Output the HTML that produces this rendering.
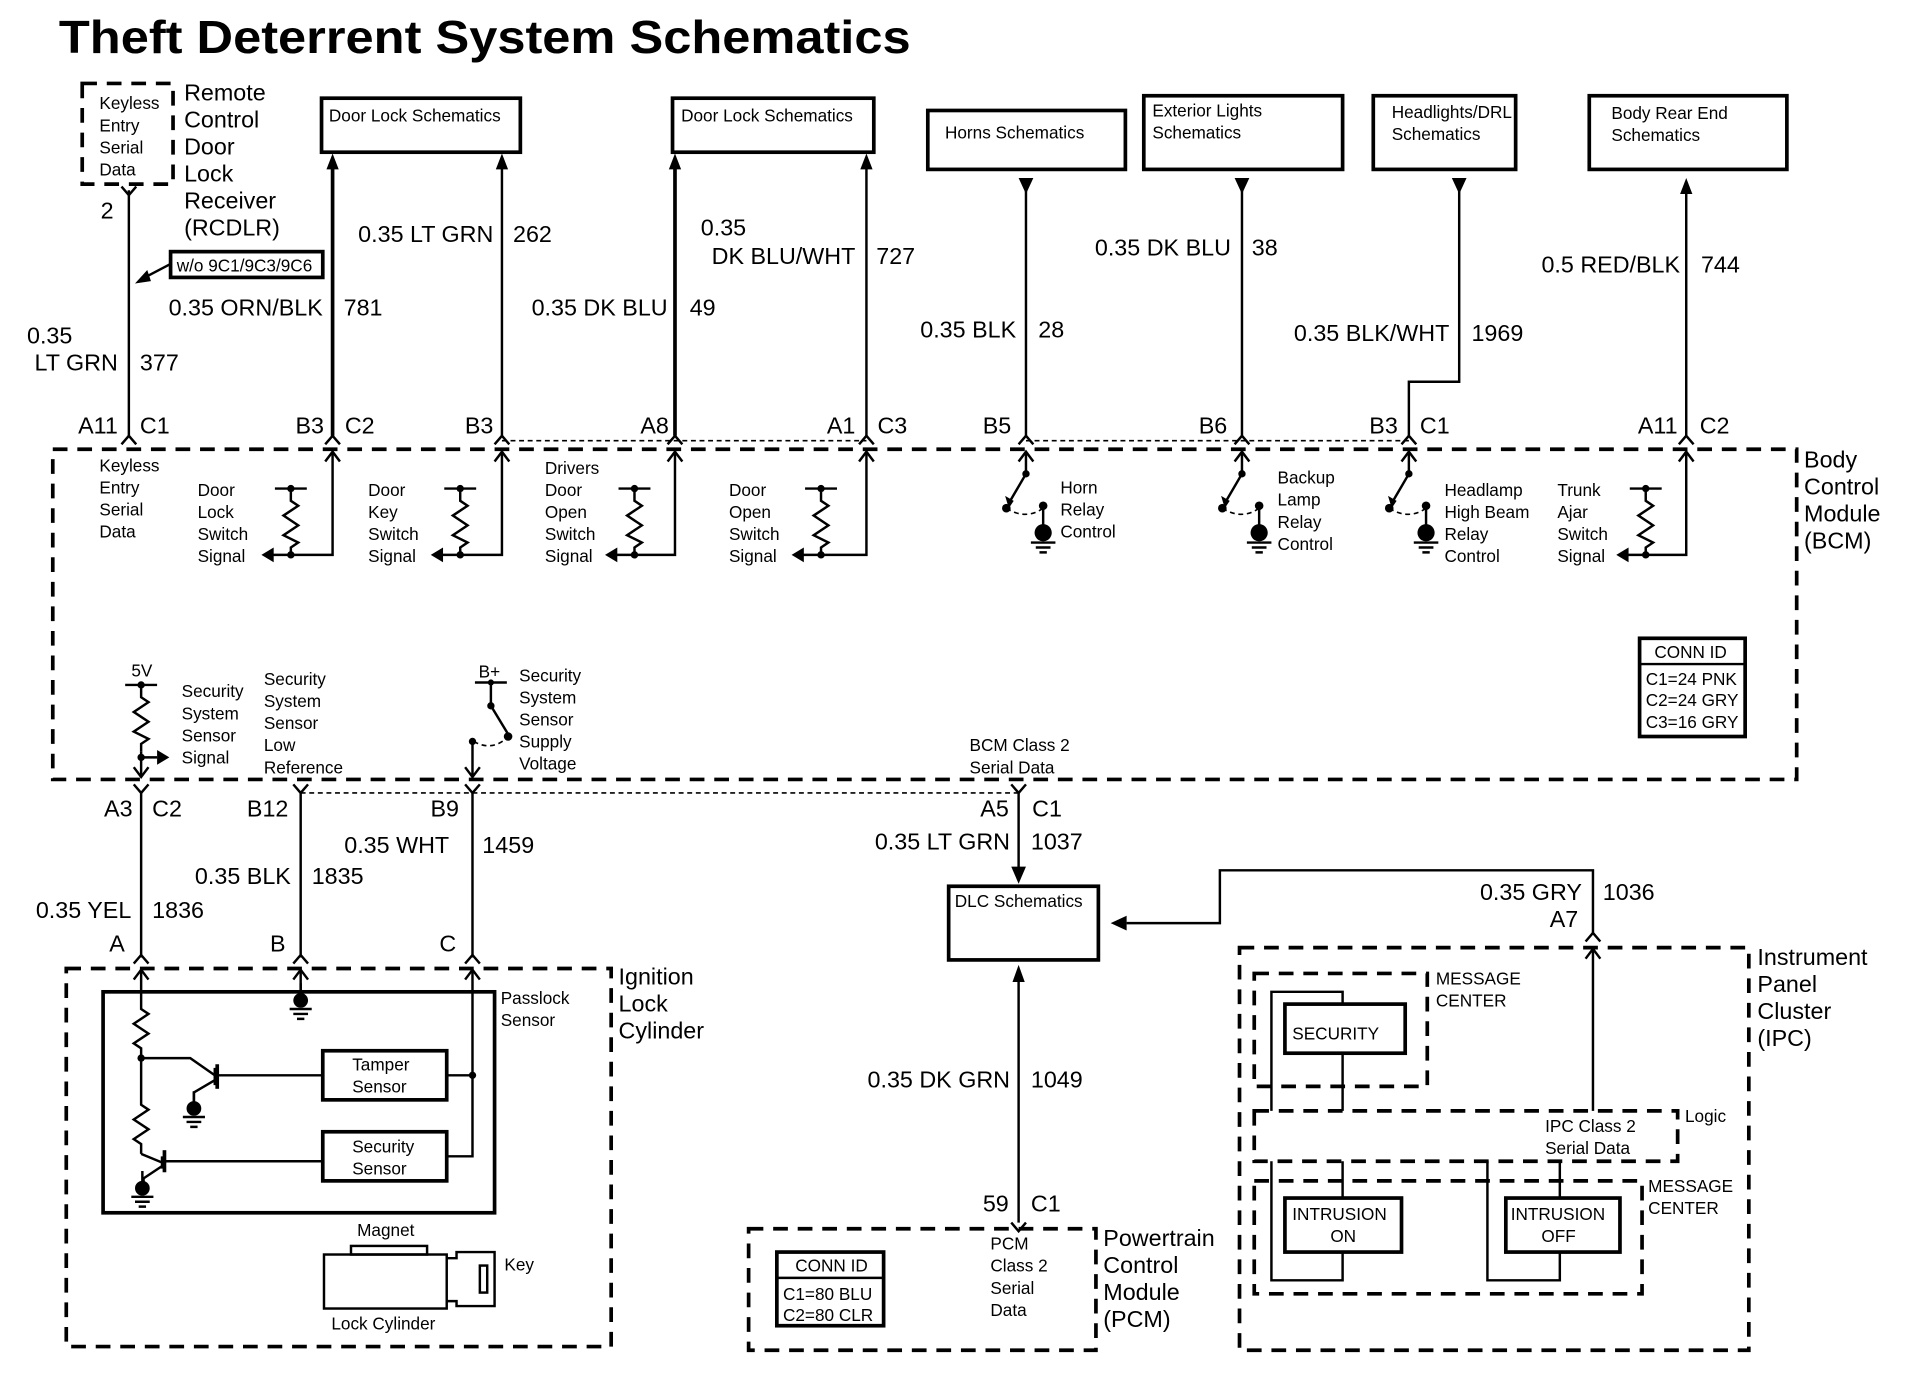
<!DOCTYPE html>
<html><head><meta charset="utf-8"><style>
html,body{margin:0;padding:0;background:#fff}
svg{display:block}
text{font-family:"Liberation Sans",Arial,sans-serif;fill:#000}
.t{font-size:19px}
.s{font-size:14px}
.m{font-size:19px}
.e{text-anchor:end}
.w{stroke:#000;stroke-width:2;fill:none}
.w3{stroke:#000;stroke-width:3;fill:none}
.d{stroke:#000;stroke-width:3;fill:none;stroke-dasharray:12 8}
.d1{stroke:#000;stroke-width:1.3;fill:none;stroke-dasharray:4 3}
</style></head><body>
<svg width="1928" height="1392" viewBox="0 0 1571 1134" preserveAspectRatio="none" xmlns="http://www.w3.org/2000/svg">
<defs>
<g id="res"><circle cx="0" cy="0" r="3"/><path class="w" d="M-13 0H13M0 0V10L6 14L-6 22L6 30L-6 38L6 44L0 48V54"/></g>
<g id="gnd"><circle cx="0" cy="0" r="6"/><path class="w" d="M0 -14V0M-9 7H9M-6 11H6M-3 15H3"/></g>
<g id="relay"><circle cx="0" cy="18" r="3"/><path class="w" d="M0 0V18L-14 42"/><path d="M-14 46L-17 36L-10 40Z"/><circle cx="-16" cy="46" r="3.5"/><path class="d1" d="M-16 46Q0 56 14 46"/><circle cx="14" cy="44" r="3.5"/><path class="w" d="M14 44V62"/><circle cx="14" cy="66" r="7"/><path class="w" d="M4 74H24M8 78H20M11 82H17"/></g>
<g id="uparr"><path class="w" d="M-6 8L0 0L6 8"/></g>
<g id="conn"><path class="w" d="M-6 7L0 0L6 7"/></g>
<g id="yfork"><path class="w" d="M-6 -7L0 0L6 -7"/></g>
</defs>

<text x="48" y="43" font-size="38" font-weight="bold" textLength="694" lengthAdjust="spacingAndGlyphs">Theft Deterrent System Schematics</text>

<rect class="d" x="67" y="68" width="74" height="82"/>
<text class="s" x="81" y="89">Keyless</text><text class="s" x="81" y="107">Entry</text><text class="s" x="81" y="125">Serial</text><text class="s" x="81" y="143">Data</text>
<text class="t" x="150" y="82">Remote</text><text class="t" x="150" y="104">Control</text><text class="t" x="150" y="126">Door</text><text class="t" x="150" y="148">Lock</text><text class="t" x="150" y="170">Receiver</text><text class="t" x="150" y="192">(RCDLR)</text>
<text class="t" x="82" y="178">2</text>
<rect class="w3" x="139" y="205" width="124" height="21"/>
<text class="s" x="144" y="221" font-size="13">w/o 9C1/9C3/9C6</text>
<path class="w" d="M139 215L118 226"/><path d="M110 231L120 220L123 229Z"/>

<rect class="w3" x="262" y="80" width="162" height="44"/><text class="s" x="268" y="99">Door Lock Schematics</text>
<rect class="w3" x="548" y="80" width="164" height="44"/><text class="s" x="555" y="99">Door Lock Schematics</text>
<rect class="w3" x="756" y="90" width="161" height="48"/><text class="s" x="770" y="113">Horns Schematics</text>
<rect class="w3" x="932" y="78" width="162" height="60"/><text class="s" x="939" y="95">Exterior Lights</text><text class="s" x="939" y="113">Schematics</text>
<rect class="w3" x="1119" y="78" width="116" height="60"/><text class="s" x="1134" y="96">Headlights/DRL</text><text class="s" x="1134" y="114">Schematics</text>
<rect class="w3" x="1295" y="78" width="161" height="60"/><text class="s" x="1313" y="97">Body Rear End</text><text class="s" x="1313" y="115">Schematics</text>

<path class="w" d="M105 155V355"/><use href="#yfork" x="105" y="159"/>
<path class="w3" d="M271 136V355"/><path d="M266 138L271 125L276 138Z"/>
<path class="w" d="M409 136V355"/><path d="M404 138L409 125L414 138Z"/>
<path class="w3" d="M550 136V355"/><path d="M545 138L550 125L555 138Z"/>
<path class="w" d="M706 136V355"/><path d="M701 138L706 125L711 138Z"/>
<path class="w" d="M836 150V355"/><path d="M830 145L842 145L836 158Z"/>
<path class="w" d="M1012 150V355"/><path d="M1006 145L1018 145L1012 158Z"/>
<path class="w" d="M1189 150V311H1148V355"/><path d="M1183 145L1195 145L1189 158Z"/>
<path class="w" d="M1374 158V355"/><path d="M1369 158L1374 145L1379 158Z"/>

<text class="t" x="22" y="280">0.35</text><text class="t e" x="96" y="302">LT GRN</text><text class="t" x="114" y="302">377</text>
<text class="t e" x="263" y="257">0.35 ORN/BLK</text><text class="t" x="280" y="257">781</text>
<text class="t e" x="402" y="197">0.35 LT GRN</text><text class="t" x="418" y="197">262</text>
<text class="t e" x="544" y="257">0.35 DK BLU</text><text class="t" x="562" y="257">49</text>
<text class="t" x="571" y="192">0.35</text><text class="t e" x="697" y="215">DK BLU/WHT</text><text class="t" x="714" y="215">727</text>
<text class="t e" x="828" y="275">0.35 BLK</text><text class="t" x="846" y="275">28</text>
<text class="t e" x="1003" y="208">0.35 DK BLU</text><text class="t" x="1020" y="208">38</text>
<text class="t e" x="1181" y="278">0.35 BLK/WHT</text><text class="t" x="1199" y="278">1969</text>
<text class="t e" x="1369" y="222">0.5 RED/BLK</text><text class="t" x="1386" y="222">744</text>

<text class="t e" x="96" y="353">A11</text><text class="t" x="114" y="353">C1</text>
<text class="t e" x="264" y="353">B3</text><text class="t" x="281" y="353">C2</text>
<text class="t e" x="402" y="353">B3</text>
<text class="t e" x="545" y="353">A8</text>
<text class="t e" x="697" y="353">A1</text><text class="t" x="715" y="353">C3</text>
<text class="t e" x="824" y="353">B5</text>
<text class="t e" x="1000" y="353">B6</text>
<text class="t e" x="1139" y="353">B3</text><text class="t" x="1157" y="353">C1</text>
<text class="t e" x="1367" y="353">A11</text><text class="t" x="1385" y="353">C2</text>
<path class="d1" d="M409 359H706M836 359H1148"/>
<use href="#conn" x="105" y="355"/><use href="#conn" x="271" y="355"/><use href="#conn" x="409" y="355"/><use href="#conn" x="550" y="355"/><use href="#conn" x="706" y="355"/><use href="#conn" x="836" y="355"/><use href="#conn" x="1012" y="355"/><use href="#conn" x="1148" y="355"/><use href="#conn" x="1374" y="355"/>

<rect class="d" x="43" y="366" width="1421" height="269"/>
<text class="m" x="1470" y="381">Body</text><text class="m" x="1470" y="403">Control</text><text class="m" x="1470" y="425">Module</text><text class="m" x="1470" y="447">(BCM)</text>
<text class="s" x="81" y="384">Keyless</text><text class="s" x="81" y="402">Entry</text><text class="s" x="81" y="420">Serial</text><text class="s" x="81" y="438">Data</text>

<g>
<text class="s" x="161" y="404">Door</text><text class="s" x="161" y="422">Lock</text><text class="s" x="161" y="440">Switch</text><text class="s" x="161" y="458">Signal</text>
<use href="#res" x="237" y="398"/><path class="w" d="M221 452H271V368"/><circle cx="237" cy="452" r="3"/><path d="M213 452L223 446L223 458Z"/><use href="#uparr" x="271" y="368"/>
<text class="s" x="300" y="404">Door</text><text class="s" x="300" y="422">Key</text><text class="s" x="300" y="440">Switch</text><text class="s" x="300" y="458">Signal</text>
<use href="#res" x="375" y="398"/><path class="w" d="M359 452H409V368"/><circle cx="375" cy="452" r="3"/><path d="M351 452L361 446L361 458Z"/><use href="#uparr" x="409" y="368"/>
<text class="s" x="444" y="386">Drivers</text><text class="s" x="444" y="404">Door</text><text class="s" x="444" y="422">Open</text><text class="s" x="444" y="440">Switch</text><text class="s" x="444" y="458">Signal</text>
<use href="#res" x="517" y="398"/><path class="w" d="M501 452H550V368"/><circle cx="517" cy="452" r="3"/><path d="M493 452L503 446L503 458Z"/><use href="#uparr" x="550" y="368"/>
<text class="s" x="594" y="404">Door</text><text class="s" x="594" y="422">Open</text><text class="s" x="594" y="440">Switch</text><text class="s" x="594" y="458">Signal</text>
<use href="#res" x="669" y="398"/><path class="w" d="M653 452H706V368"/><circle cx="669" cy="452" r="3"/><path d="M645 452L655 446L655 458Z"/><use href="#uparr" x="706" y="368"/>
<text class="s" x="1269" y="404">Trunk</text><text class="s" x="1269" y="422">Ajar</text><text class="s" x="1269" y="440">Switch</text><text class="s" x="1269" y="458">Signal</text>
<use href="#res" x="1341" y="398"/><path class="w" d="M1325 452H1374V368"/><circle cx="1341" cy="452" r="3"/><path d="M1317 452L1327 446L1327 458Z"/><use href="#uparr" x="1374" y="368"/>
</g>
<use href="#relay" x="836" y="368"/><use href="#uparr" x="836" y="368"/>
<text class="s" x="864" y="402">Horn</text><text class="s" x="864" y="420">Relay</text><text class="s" x="864" y="438">Control</text>
<use href="#relay" x="1012" y="368"/><use href="#uparr" x="1012" y="368"/>
<text class="s" x="1041" y="394">Backup</text><text class="s" x="1041" y="412">Lamp</text><text class="s" x="1041" y="430">Relay</text><text class="s" x="1041" y="448">Control</text>
<use href="#relay" x="1148" y="368"/><use href="#uparr" x="1148" y="368"/>
<text class="s" x="1177" y="404">Headlamp</text><text class="s" x="1177" y="422">High Beam</text><text class="s" x="1177" y="440">Relay</text><text class="s" x="1177" y="458">Control</text>

<rect class="w3" x="1336" y="520" width="86" height="80"/><path class="w" d="M1336 541H1422"/>
<text class="s" x="1348" y="536">CONN ID</text><text class="s" x="1341" y="558">C1=24 PNK</text><text class="s" x="1341" y="575">C2=24 GRY</text><text class="s" x="1341" y="593">C3=16 GRY</text>

<text class="s" x="107" y="551" font-size="13">5V</text>
<use href="#res" x="115" y="558"/><path class="w" d="M115 612V633"/><path class="w" d="M109 625L115 633L121 625"/>
<circle cx="115" cy="617" r="3"/><path class="w" d="M115 617H128"/><path d="M128 611L138 617L128 623Z"/>
<text class="s" x="148" y="568">Security</text><text class="s" x="148" y="586">System</text><text class="s" x="148" y="604">Sensor</text><text class="s" x="148" y="622">Signal</text>
<text class="s" x="215" y="558">Security</text><text class="s" x="215" y="576">System</text><text class="s" x="215" y="594">Sensor</text><text class="s" x="215" y="612">Low</text><text class="s" x="215" y="630">Reference</text>
<text class="s" x="390" y="552" font-size="13">B+</text>
<path class="w" d="M387 556H413M400 556V575L414 598"/><circle cx="400" cy="556" r="2.5"/><circle cx="400" cy="575" r="3"/><circle cx="414" cy="600" r="3.5"/>
<path class="d1" d="M386 604Q400 612 412 602"/><circle cx="385" cy="604" r="3"/><path class="w" d="M385 604V633M379 625L385 633L391 625"/>
<text class="s" x="423" y="555">Security</text><text class="s" x="423" y="573">System</text><text class="s" x="423" y="591">Sensor</text><text class="s" x="423" y="609">Supply</text><text class="s" x="423" y="627">Voltage</text>
<text class="s" x="790" y="612">BCM Class 2</text><text class="s" x="790" y="630">Serial Data</text>

<path class="d1" d="M245 646H830"/>
<use href="#yfork" x="115" y="646"/><use href="#yfork" x="245" y="646"/><use href="#yfork" x="385" y="646"/><use href="#yfork" x="830" y="646"/>
<path class="w" d="M115 646V780M245 646V780M385 646V780"/>
<text class="t e" x="108" y="665">A3</text><text class="t" x="124" y="665">C2</text>
<text class="t e" x="235" y="665">B12</text><text class="t e" x="374" y="665">B9</text>
<text class="t e" x="366" y="695">0.35 WHT</text><text class="t" x="393" y="695">1459</text>
<text class="t e" x="237" y="720">0.35 BLK</text><text class="t" x="254" y="720">1835</text>
<text class="t e" x="107" y="748">0.35 YEL</text><text class="t" x="124" y="748">1836</text>
<text class="t" x="89" y="775">A</text><text class="t" x="220" y="775">B</text><text class="t" x="358" y="775">C</text>
<use href="#conn" x="115" y="778"/><use href="#conn" x="245" y="778"/><use href="#conn" x="385" y="778"/>

<rect class="d" x="54" y="789" width="444" height="308"/>
<text class="m" x="504" y="802">Ignition</text><text class="m" x="504" y="824">Lock</text><text class="m" x="504" y="846">Cylinder</text>
<rect class="w3" x="84" y="808" width="319" height="180"/>
<text class="s" x="408" y="818">Passlock</text><text class="s" x="408" y="836">Sensor</text>
<path class="w" d="M115 790V822L121 826L109 834L121 842L109 850L115 854V900L121 904L109 912L121 920L109 928L115 932V940"/>
<use href="#uparr" x="115" y="790"/><use href="#uparr" x="245" y="790"/><use href="#uparr" x="385" y="790"/>
<path class="w" d="M245 790V812"/><use href="#gnd" x="245" y="815"/>
<circle cx="115" cy="862" r="3"/>
<path class="w" d="M115 862H155L175 876M175 870V884M175 876H263M175 880L158 890V900"/><use href="#gnd" x="158" y="903"/>
<path class="w3" d="M177 867V887"/>
<path class="w" d="M115 940L132 947M132 942V952M132 946H263M132 950L117 960V965"/><path class="w3" d="M134 937V955"/><use href="#gnd" x="116" y="968"/>
<rect class="w3" x="263" y="856" width="101" height="40"/><text class="s" x="287" y="872">Tamper</text><text class="s" x="287" y="890">Sensor</text>
<rect class="w3" x="263" y="922" width="101" height="40"/><text class="s" x="287" y="939">Security</text><text class="s" x="287" y="957">Sensor</text>
<path class="w" d="M385 790V942H364M364 876H385"/><circle cx="385" cy="876" r="3"/>
<text class="s" x="291" y="1007">Magnet</text>
<rect class="w" x="286" y="1015" width="62" height="7"/>
<rect class="w" x="264" y="1022" width="100" height="44"/>
<path class="w" d="M364 1025H372V1020H403V1064H372V1060H364"/><rect class="w" x="391" y="1031" width="6" height="22"/>
<text class="s" x="411" y="1035">Key</text>
<text class="s" x="270" y="1083">Lock Cylinder</text>

<text class="t e" x="822" y="665">A5</text><text class="t" x="841" y="665">C1</text>
<path class="w" d="M830 646V712"/><path d="M824 706L836 706L830 720Z"/>
<text class="t e" x="823" y="692">0.35 LT GRN</text><text class="t" x="840" y="692">1037</text>
<rect class="w3" x="773" y="722" width="122" height="60"/><text class="s" x="778" y="739">DLC Schematics</text>
<path class="w" d="M830 798V996"/><path d="M825 800L830 786L835 800Z"/>
<text class="t e" x="823" y="886">0.35 DK GRN</text><text class="t" x="840" y="886">1049</text>
<text class="t e" x="822" y="987">59</text><text class="t" x="840" y="987">C1</text>
<use href="#yfork" x="830" y="1003"/>
<path class="w" d="M1298 760V709H994V752H918"/><path d="M918 746L918 758L905 752Z"/>
<text class="t e" x="1289" y="733">0.35 GRY</text><text class="t" x="1306" y="733">1036</text>
<text class="t e" x="1286" y="755">A7</text>
<use href="#conn" x="1298" y="760"/>

<rect class="d" x="610" y="1001" width="283" height="99"/>
<text class="m" x="899" y="1015">Powertrain</text><text class="m" x="899" y="1037">Control</text><text class="m" x="899" y="1059">Module</text><text class="m" x="899" y="1081">(PCM)</text>
<text class="s" x="807" y="1018">PCM</text><text class="s" x="807" y="1036">Class 2</text><text class="s" x="807" y="1054">Serial</text><text class="s" x="807" y="1072">Data</text>
<rect class="w3" x="633" y="1020" width="87" height="60"/><path class="w" d="M633 1041H720"/>
<text class="s" x="648" y="1036">CONN ID</text><text class="s" x="638" y="1059">C1=80 BLU</text><text class="s" x="638" y="1076">C2=80 CLR</text>

<rect class="d" x="1010" y="772" width="415" height="328"/>
<text class="m" x="1432" y="786">Instrument</text><text class="m" x="1432" y="808">Panel</text><text class="m" x="1432" y="830">Cluster</text><text class="m" x="1432" y="852">(IPC)</text>
<path class="w" d="M1298 772V905"/><use href="#uparr" x="1298" y="773"/>
<rect class="d" x="1022" y="793" width="141" height="92"/>
<text class="s" x="1170" y="802">MESSAGE</text><text class="s" x="1170" y="820">CENTER</text>
<path class="w" d="M1036 905V808H1094V818M1094 858V905"/>
<rect class="w3" x="1047" y="818" width="98" height="40"/><text class="s" x="1053" y="847">SECURITY</text>
<rect class="d" x="1022" y="905" width="345" height="41"/>
<text class="s" x="1373" y="914">Logic</text>
<text class="s" x="1259" y="922">IPC Class 2</text><text class="s" x="1259" y="940">Serial Data</text>
<rect class="d" x="1022" y="962" width="316" height="92"/>
<text class="s" x="1343" y="971">MESSAGE</text><text class="s" x="1343" y="989">CENTER</text>
<path class="w" d="M1036 946V1043H1094V1020M1094 976V946"/>
<path class="w" d="M1212 946V1043H1271V1020M1271 976V946"/>
<rect class="w3" x="1047" y="976" width="95" height="44"/><text class="s" x="1053" y="994">INTRUSION</text><text class="s" x="1084" y="1012">ON</text>
<rect class="w3" x="1227" y="976" width="93" height="44"/><text class="s" x="1231" y="994">INTRUSION</text><text class="s" x="1256" y="1012">OFF</text>
</svg>
</body></html>
